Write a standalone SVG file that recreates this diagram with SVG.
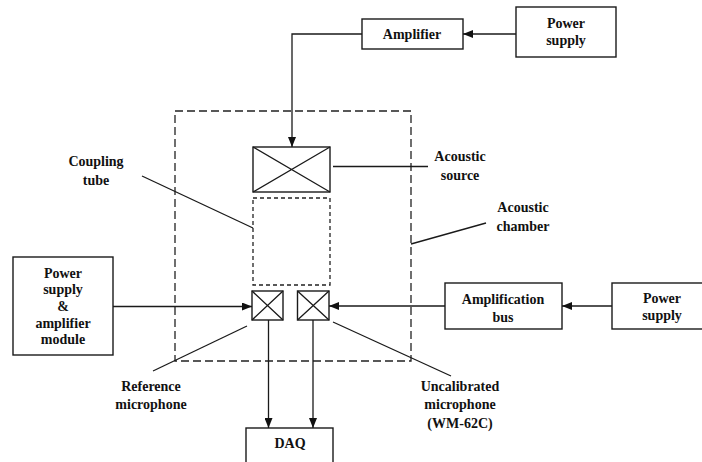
<svg xmlns="http://www.w3.org/2000/svg" width="702" height="462" viewBox="0 0 702 462">
<style>
.box{fill:#fff;stroke:#1a1a1a;stroke-width:1.4}
.ln{fill:none;stroke:#1a1a1a;stroke-width:1.3}
.dash{fill:none;stroke:#222;stroke-width:1.3;stroke-dasharray:8,4}
.dash2{fill:none;stroke:#222;stroke-width:1.3;stroke-dasharray:4,3}
.t{font-family:'Liberation Serif','DejaVu Serif',serif;font-weight:700;font-size:14px;fill:#111;text-anchor:middle}
</style>
<defs>
<marker id="ah" viewBox="0 0 10 8" refX="10" refY="4" markerWidth="10" markerHeight="8" markerUnits="userSpaceOnUse" orient="auto">
<path d="M0,0 L10,4 L0,8 Z" fill="#111"/>
</marker>
</defs>
<rect class="dash" x="175" y="111" width="236" height="250"/>
<g class="t" font-family="Liberation Serif, DejaVu Serif, serif">
<g id="power1"><rect class="box" x="516" y="7" width="100" height="50"/><text x="566" y="28">Power</text><text x="566" y="45">supply</text></g>
<g id="amplifier"><rect class="box" x="362" y="19" width="101" height="30"/><text x="412" y="39">Amplifier</text></g>
<g id="source"><rect class="box" x="253" y="147" width="77" height="45"/><path class="ln" d="M253,147 L330,192 M330,147 L253,192"/></g>
<g id="tube"><rect class="dash2" x="253" y="198" width="77" height="87"/></g>
<g id="refmic"><rect class="box" x="252" y="291" width="31" height="29"/><path class="ln" d="M252,291 L283,320 M283,291 L252,320"/></g>
<g id="uncalmic"><rect class="box" x="297.5" y="291" width="31.5" height="29"/><path class="ln" d="M297.5,291 L329,320 M329,291 L297.5,320"/></g>
<g id="module"><rect class="box" x="13" y="257" width="100" height="98"/><text x="63" y="278">Power</text><text x="63" y="294">supply</text><text x="63" y="311">&amp;</text><text x="63" y="328">amplifier</text><text x="63" y="344">module</text></g>
<g id="ampbus"><rect class="box" x="445" y="283" width="117" height="46"/><text x="503" y="304">Amplification</text><text x="503" y="322">bus</text></g>
<g id="power2"><rect class="box" x="612" y="283" width="92" height="46"/><text x="662" y="303">Power</text><text x="662" y="320">supply</text></g>
<g id="daq"><rect class="box" x="246" y="428" width="87" height="40"/><text x="290" y="448">DAQ</text></g>
<g id="labels">
<text x="96" y="166">Coupling</text><text x="96" y="185">tube</text>
<text x="460" y="161">Acoustic</text><text x="460" y="180">source</text>
<text x="523" y="212">Acoustic</text><text x="523" y="231">chamber</text>
<text x="151" y="391">Reference</text><text x="151" y="409">microphone</text>
<text x="460" y="391">Uncalibrated</text><text x="460" y="409">microphone</text><text x="460" y="428">(WM-62C)</text>
</g>
</g>
<g id="connectors">
<path class="ln" d="M516,34 L463,34" marker-end="url(#ah)"/>
<path class="ln" d="M362,34 L292,34 L292,147" marker-end="url(#ah)"/>
<path class="ln" d="M113,306.5 L252,306.5" marker-end="url(#ah)"/>
<path class="ln" d="M612,306 L562,306" marker-end="url(#ah)"/>
<path class="ln" d="M445,306 L329,306" marker-end="url(#ah)"/>
<path class="ln" d="M268.5,320 L268.5,428" marker-end="url(#ah)"/>
<path class="ln" d="M313,320 L313,428" marker-end="url(#ah)"/>
<path class="ln" d="M333,166.5 L428,166.5"/>
<path class="ln" d="M411,244 L486,223"/>
<path class="ln" d="M142,176 L253,228"/>
<path class="ln" d="M247,326 L153,371"/>
<path class="ln" d="M333,322 L451,376"/>
</g>
</svg>
